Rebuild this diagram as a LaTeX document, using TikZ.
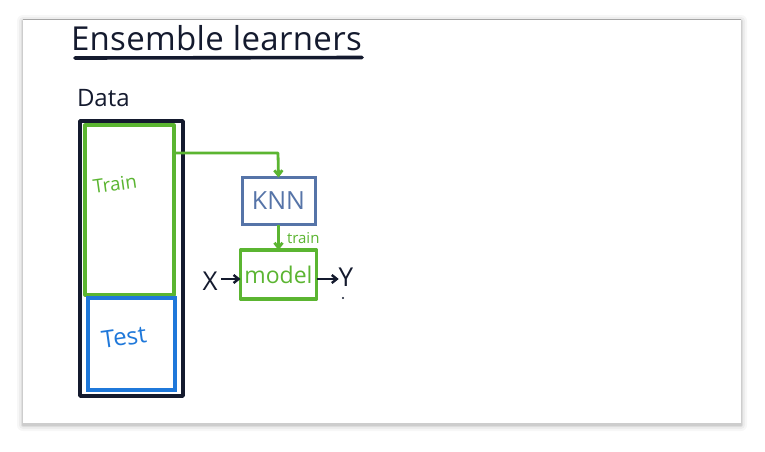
\documentclass[tikz,border=0pt]{standalone}
\usepackage{fontspec}
\setmainfont{Open Sans}
\usetikzlibrary{arrows.meta}
\definecolor{ink}{HTML}{141A2E}
\definecolor{grn}{HTML}{5BB531}
\definecolor{slate}{HTML}{5674A8}
\definecolor{tblue}{HTML}{1F78DA}
\tikzset{
  every node/.style={inner sep=0pt, outer sep=0pt},
  inkline/.style={draw=ink, line width=3.4pt, line join=round},
  grnbox/.style={draw=grn, line width=3.2pt, line join=round},
  arr/.style={-{Straight Barb[length=5pt,width=8pt]}, line width=2.8pt},
}
\begin{document}
\begin{tikzpicture}[x=1pt,y=-1pt]
\useasboundingbox (0,0) rectangle (765,451);
\fill[white] (0,0) rectangle (765,451);
% shadow
\foreach \i/\o in {6/0.03,4/0.04,2/0.06,1/0.08}{
  \fill[black,opacity=\o,rounded corners=\i pt] (23-\i,19-\i+2) rectangle (741+\i,423+\i+2);
}
\fill[white] (23,19) rectangle (741,423);
\draw[gray!70,line width=1pt] (23,19) -- (741,19);
% title
\node[anchor=base west, font=\fontsize{33}{33}\selectfont\addfontfeatures{LetterSpace=1}, text=ink] (title) at (71,50) {Ensemble learners};
\coordinate (ul1) at (75,58);
\coordinate (ul2) at (362,57.5);
\draw[ink, line width=3.6pt, line cap=round] (ul1) -- (ul2);
% data
\node[anchor=base west, font=\fontsize{24}{24}\selectfont, text=ink] (data) at (77,106) {Data};
\draw[inkline] (80,121) rectangle (183,396);
\draw[grnbox] (85,125) rectangle (174,295);
\draw[draw=tblue, line width=3.2pt] (88,298) rectangle (175,390);
\coordinate (trainE) at (174,153);
\node[text=grn, font=\fontsize{19}{19}\selectfont, rotate=8] (trainlbl) at (115,184) {Train};
\node[text=tblue, font=\fontsize{24}{24}\selectfont, rotate=8] (testlbl) at (124,337) {Test};
% KNN and model
\node[draw=slate, line width=3pt, minimum width=73pt, minimum height=47pt, text=slate, font=\fontsize{25}{25}\selectfont] (knn) at (278.5,201) {KNN};
\node[grnbox, minimum width=76pt, minimum height=49pt, text=grn, font=\fontsize{23}{23}\selectfont] (model) at (278.5,274.5) {model};
\coordinate (bend) at (278,153);
\draw[grn, arr, line join=round] (trainE) -- (bend) -- (knn.north);
\draw[grn, arr] (knn.south) -- (model.north);
\node[text=grn, font=\fontsize{15}{15}\selectfont, anchor=west] (trainsm) at (287,238) {train};
\node[text=ink, font=\fontsize{26}{26}\selectfont] (x) at (210,281) {X};
\node[text=ink, font=\fontsize{26}{26}\selectfont] (y) at (346,277) {Y};
\coordinate (xs) at (221,279);
\draw[ink, arr, line width=2.4pt] (xs) -- (model.west |- xs);
\draw[ink, arr, line width=2.4pt] (model.east |- xs) -- (y.west |- xs);
\fill[ink] (343,298) circle (1.2pt);
\end{tikzpicture}
\end{document}
